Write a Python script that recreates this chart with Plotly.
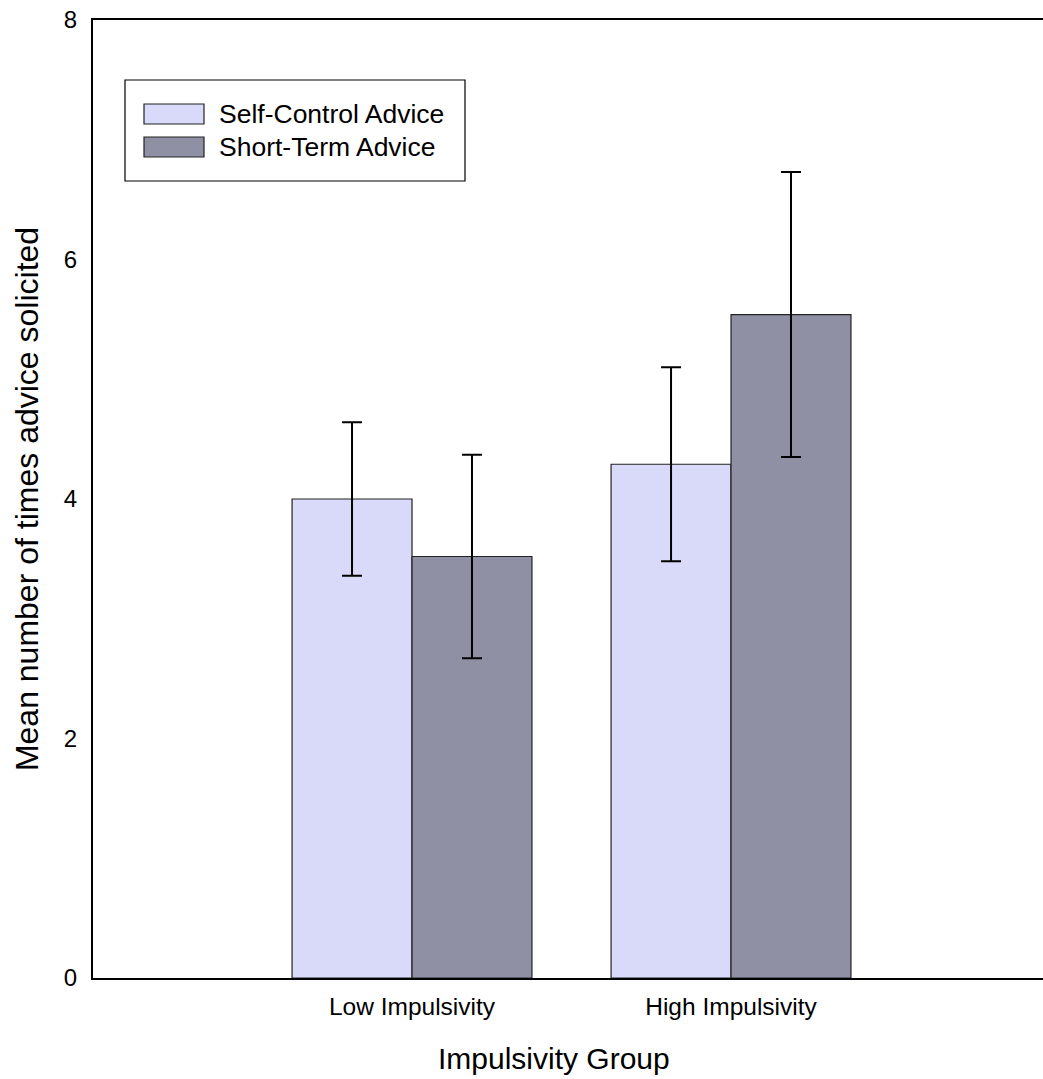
import plotly.graph_objects as go

categories = ["Low Impulsivity", "High Impulsivity"]
series_names = ["Self-Control Advice", "Short-Term Advice"]
self_control = [4.00, 4.29]
self_control_err = [0.64, 0.81]
short_term = [3.52, 5.54]
short_term_err = [0.85, 1.19]
y_ticks = [0, 2, 4, 6, 8]

colors = ["#D9D9FA", "#9090A5"]
FONT = "Liberation Sans, Arial, sans-serif"

fig = go.Figure()
for name, vals, errs, col in [
    (series_names[0], self_control, self_control_err, colors[0]),
    (series_names[1], short_term, short_term_err, colors[1]),
]:
    fig.add_trace(go.Bar(
        x=categories, y=vals, name=name,
        marker=dict(color=col, line=dict(color="#222222", width=1.2)),
        error_y=dict(type="data", array=errs, visible=True,
                     color="black", thickness=2, width=10),
        showlegend=False,
    ))

# custom legend box (large swatches like the original)
fig.add_shape(type="rect", xref="paper", yref="paper",
              x0=(125 - 93) / 950, x1=(465 - 93) / 950,
              y0=(978 - 181) / 958, y1=(978 - 80) / 958,
              line=dict(color="black", width=1.2), fillcolor="white")
for i, (name, col) in enumerate(zip(series_names, colors)):
    yc = 114 + 33 * i
    fig.add_shape(type="rect", xref="paper", yref="paper",
                  x0=(144 - 93) / 950, x1=(204 - 93) / 950,
                  y0=(978 - (yc + 10)) / 958, y1=(978 - (yc - 10)) / 958,
                  line=dict(color="#222222", width=1.2), fillcolor=col)
    fig.add_annotation(xref="paper", yref="paper",
                       x=(217 - 93) / 950, y=(978 - yc) / 958,
                       text=name, showarrow=False, xanchor="left", yanchor="middle",
                       font=dict(family=FONT, size=26.5, color="black"))

fig.add_annotation(xref="paper", yref="paper", x=(554 - 93) / 950, y=(978 - 1058) / 958,
                   text="Impulsivity Group", showarrow=False,
                   xanchor="center", yanchor="middle",
                   font=dict(family=FONT, size=30, color="black"))

fig.update_layout(
    width=1043, height=1079,
    margin=dict(l=93, r=0, t=20, b=101),
    paper_bgcolor="white", plot_bgcolor="white",
    barmode="group", bargap=0.248, bargroupgap=0,
    font=dict(family=FONT, color="black"),
    showlegend=False,
)
fig.update_xaxes(
    range=[-1.0, 1.978], showgrid=False, zeroline=False,
    showline=True, linecolor="black", linewidth=2, mirror=True,
    ticks="", tickfont=dict(family=FONT, size=24.5, color="black"),
    ticklabelstandoff=6,
)
fig.update_yaxes(
    range=[0, 8], tickvals=y_ticks, showgrid=False, zeroline=False,
    showline=True, linecolor="black", linewidth=2,
    ticks="", tickfont=dict(family=FONT, size=24, color="black"),
    ticklabelstandoff=9,
    title=dict(text="Mean number of times advice solicited",
               font=dict(family=FONT, size=32, color="black"), standoff=16),
)

fig.write_html("out.html")
